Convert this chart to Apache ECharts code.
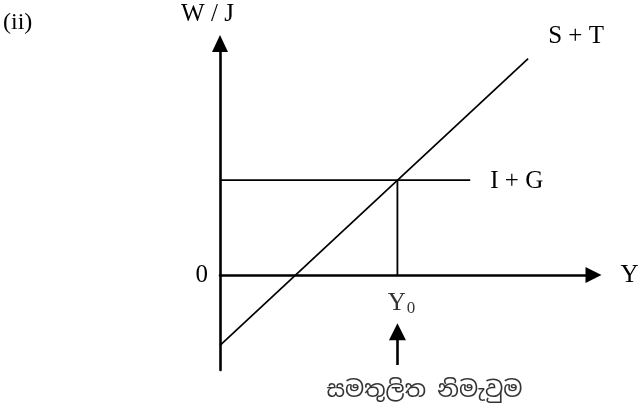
<!DOCTYPE html>
<html>
<head>
<meta charset="utf-8">
<script src="https://cdn.jsdelivr.net/npm/echarts@6/dist/echarts.min.js"></script>
<style>
  html, body { margin: 0; padding: 0; background: #fff; }
  #main { width: 643px; height: 405px; }
</style>
</head>
<body>
<div id="main"></div>
<script>
// axis ranges (income Y on x, withdrawals / injections on y)
var xRange = [0, 20];
var yRange = [-5, 12.2];
var yTicks = 5;

// S + T line and I + G line
var stLine = [[0, -3.7], [16.5, 11.4]];
var igLine = [[0, 5], [13.4, 5]];

// equilibrium income Y0 and the drop line from the crossing point
var y0 = 9.5;
var eqLine = [[y0, 0], [y0, 5]];
var arrowLine = [[y0, -4.74], [y0, -2.98]];

var serif = "'Liberation Serif', 'Times New Roman', serif";
var sinhala = "'Noto Sans Sinhala', 'Iskoola Pota', 'Noto Sans', 'DejaVu Sans', sans-serif";

var myChart = echarts.init(document.getElementById('main'));

myChart.setOption({
    animation: false,
    backgroundColor: '#fff',
    title: {
        text: '(ii)',
        left: 3,
        top: 11,
        padding: 0,
        textStyle: { fontFamily: serif, fontSize: 24, fontWeight: 'normal', color: '#000' }
    },
    grid: {
        left: 220,
        right: 49.5,
        top: 43.5,
        bottom: 35,
        outerBoundsMode: 'none'
    },
    xAxis: {
        type: 'value',
        min: xRange[0],
        max: xRange[1],
        name: 'Y',
        nameLocation: 'end',
        nameGap: 27,
        nameTextStyle: { fontFamily: serif, fontSize: 25, color: '#000', padding: [3, 0, 0, 0] },
        axisLine: {
            onZero: true,
            symbol: ['none', 'triangle'],
            symbolSize: [16, 16],
            lineStyle: { color: '#000', width: 2.6 }
        },
        axisTick: { show: false },
        axisLabel: { show: false },
        splitLine: { show: false }
    },
    yAxis: {
        type: 'value',
        min: yRange[0],
        max: yRange[1],
        interval: yTicks,
        name: 'W / J',
        nameLocation: 'end',
        nameGap: 17,
        nameTextStyle: { fontFamily: serif, fontSize: 25, color: '#000', align: 'center', padding: [0, 25, 0, 0] },
        axisLine: {
            onZero: true,
            symbol: ['none', 'triangle'],
            symbolSize: [16, 17],
            lineStyle: { color: '#000', width: 2.6 }
        },
        axisTick: { show: false },
        axisLabel: {
            margin: 12,
            fontFamily: serif,
            fontSize: 25,
            color: '#000',
            padding: [4, 0, 0, 0],
            formatter: function (v) { return v === 0 ? '0' : ''; }
        },
        splitLine: { show: false }
    },
    series: [
        {
            name: 'S + T',
            type: 'line',
            data: stLine,
            showSymbol: false,
            lineStyle: { color: '#000', width: 1.7 },
            endLabel: {
                show: true,
                formatter: 'S + T',
                distance: 20,
                offset: [0, -22],
                fontFamily: serif,
                fontSize: 25,
                color: '#000'
            }
        },
        {
            name: 'I + G',
            type: 'line',
            data: igLine,
            showSymbol: false,
            lineStyle: { color: '#000', width: 1.7 },
            endLabel: {
                show: true,
                formatter: 'I + G',
                distance: 20,
                offset: [0, 1],
                fontFamily: serif,
                fontSize: 25,
                color: '#000'
            }
        },
        {
            name: 'Y0 line',
            type: 'line',
            data: eqLine,
            showSymbol: false,
            lineStyle: { color: '#000', width: 1.8 }
        },
        {
            name: 'Y0',
            type: 'scatter',
            data: [[y0, 0]],
            symbolSize: 1,
            itemStyle: { color: 'rgba(0,0,0,0)' },
            label: {
                show: true,
                position: 'bottom',
                distance: 14,
                offset: [4, 0],
                formatter: '{a|Y}{b|0}',
                rich: {
                    a: { fontFamily: serif, fontSize: 25, color: '#000' },
                    b: { fontFamily: serif, fontSize: 17, color: '#000', padding: [10, 0, 0, 1] }
                }
            }
        },
        {
            name: 'arrow',
            type: 'lines',
            coordinateSystem: 'cartesian2d',
            data: [{ coords: arrowLine }],
            symbol: ['none', 'triangle'],
            symbolSize: [16, 17],
            lineStyle: { color: '#000', width: 2.6, opacity: 1, curveness: 0 }
        },
        {
            name: 'සමතුලිත නිමැවුම',
            type: 'scatter',
            data: [arrowLine[0]],
            symbolSize: 1,
            itemStyle: { color: 'rgba(0,0,0,0)' },
            label: {
                show: true,
                position: 'bottom',
                distance: 14,
                offset: [27, 0],
                formatter: 'සමතුලිත නිමැවුම',
                fontFamily: sinhala,
                fontSize: 22.5,
                color: '#000'
            }
        }
    ]
});
</script>
</body>
</html>
